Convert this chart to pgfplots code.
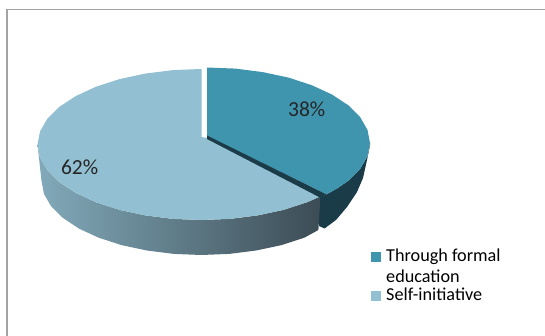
\documentclass[border=0pt]{standalone}
\usepackage{fontspec}
\setmainfont{Carlito}
\usepackage{pgfplots}
\pgfplotsset{compat=1.18}
\definecolor{sliceA}{HTML}{4095AE}
\definecolor{sliceB}{HTML}{92C0D2}
\definecolor{wallA}{HTML}{1A3C48}
\definecolor{frameline}{HTML}{A3A3A3}
\begin{document}
\begin{tikzpicture}
\begin{axis}[
  name=chart,
  scale only axis, width=545pt, height=336pt,
  xmin=0, xmax=545, ymin=0, ymax=336, y dir=reverse,
  hide axis, clip=true,
  legend style={draw=none, fill=none, at={(axis cs:371,247)}, anchor=north west,
    font=\fontsize{18.2}{21}\selectfont, cells={anchor=base west}, row sep=21pt, inner sep=0pt,
    /tikz/every odd column/.append style={column sep=3pt}},
  legend cell align=left,
  legend image code/.code={\fill[#1] (0pt,-5.5pt) rectangle (10pt,4.5pt);},
]
% chart frame
\addplot[frameline, line width=1.3pt, forget plot] coordinates {(7,336) (7,9.5) (545,9.5)};

% outer walls
\addplot[draw=none, fill=wallA, forget plot] coordinates {
  (370,143) (367.5,156.1) (360.2,168.8) (348.2,180.8) (337.2,188.4) (326.4,194.4)
  (319,197.5) (319,226) (324.5,228.5) (336,220) (347,207) (357,192) (363,178) (367,160) (370,145)
} --cycle;
\addplot[draw=none, forget plot, left color={rgb,255:red,130;green,170;blue,186},
  middle color={rgb,255:red,92;green,125;blue,137}, right color={rgb,255:red,60;green,76;blue,85}] coordinates {
  (37.5,144.5) (40,157.6) (47.4,170.3) (59.5,182.3) (75.9,193) (96.1,202.3) (119.5,209.9)
  (145.4,215.4) (173,218.9) (201.5,220) (230,218.9) (257.6,215.4) (283.5,209.9) (306.9,202.3)
  (320.4,196.4) (318.4,230) (304.3,237.7) (281.5,245.1) (256.2,250.5) (229.3,253.9) (201.5,255)
  (173.7,253.9) (146.8,250.5) (121.5,245.1) (98.7,237.7) (78.9,228.6) (63,218) (51.1,206.3)
  (44,193.9) (41.5,181)
} --cycle;

% top faces
\addplot[draw=none, fill=sliceA] coordinates {
  (207,136) (207,67.5) (235.3,68.6) (262.7,72.1) (288.5,77.6) (311.8,85.2) (331.9,94.5)
  (348.2,105.2) (360.2,117.2) (367.5,129.9) (370,143) (367.5,156.1) (360.2,168.8)
  (348.2,180.8) (337.2,188.4) (326.4,194.4)
} --cycle;
\addlegendentry{\parbox[t]{130pt}{Through formal\\education}}

\addplot[draw=none, fill=sliceB] coordinates {
  (201.5,137) (207,138) (320.4,196.4) (306.9,202.3) (283.5,209.9) (257.6,215.4) (230,218.9)
  (201.5,220) (173,218.9) (145.4,215.4) (119.5,209.9) (96.1,202.3) (75.9,193) (59.5,182.3)
  (47.4,170.3) (40,157.6) (37.5,144.5) (40,131.4) (47.4,118.7) (59.5,106.75) (75.9,96)
  (96.1,86.7) (119.5,79.1) (145.4,73.55) (173,70.1) (201.5,69)
} --cycle;
\addlegendentry{Self-initiative}

% cut face between the two slices
\addplot[draw=none, fill=wallA, forget plot] coordinates {
  (207,135.5) (326.4,194.4) (320,197.5) (207,139)
} --cycle;

\node[font=\fontsize{21.5}{23}\selectfont, text=black!85] at (axis cs:306.7,109) {38\%};
\node[font=\fontsize{21.5}{23}\selectfont, text=black!85] at (axis cs:79.6,167) {62\%};
\end{axis}
\pgfresetboundingbox
\useasboundingbox (chart.south west) rectangle (chart.north east);
\end{tikzpicture}
\end{document}
